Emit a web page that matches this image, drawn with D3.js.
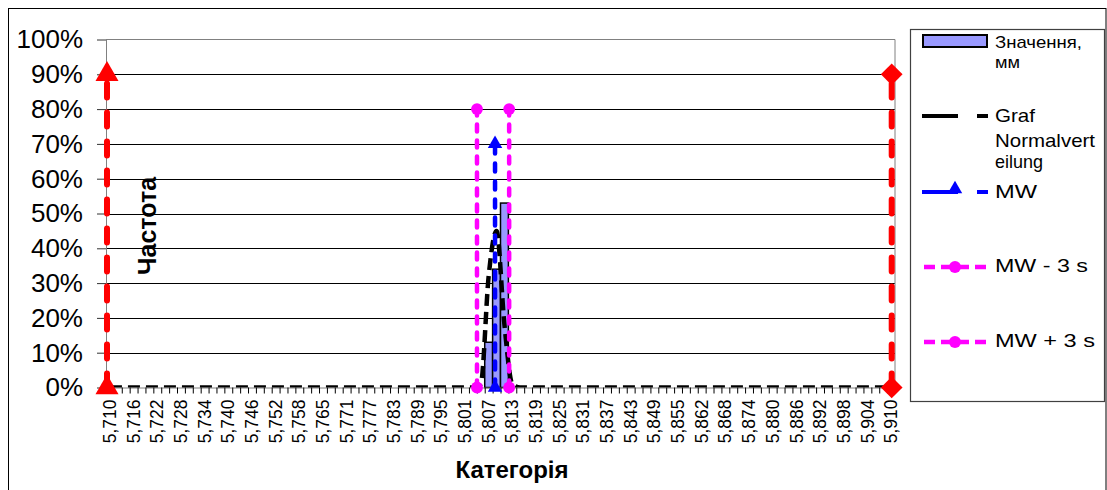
<!DOCTYPE html>
<html><head><meta charset="utf-8">
<script src="https://cdn.jsdelivr.net/npm/d3@7"></script>
<style>
body{margin:0;background:#fff;}
svg{display:block;font-family:"Liberation Sans",Arial,sans-serif;}
</style></head>
<body><svg id="c" width="1107" height="490"></svg>
<script>
// ---- data ----
const categories = [
"5,710","5,712","5,714","5,716","5,718","5,720","5,722","5,724","5,726","5,728",
"5,730","5,732","5,734","5,736","5,738","5,740","5,742","5,744","5,746","5,748",
"5,750","5,752","5,754","5,756","5,758","5,761","5,763","5,765","5,767","5,769",
"5,771","5,773","5,775","5,777","5,779","5,781","5,783","5,785","5,787","5,789",
"5,791","5,793","5,795","5,797","5,799","5,801","5,803","5,805","5,807","5,809",
"5,811","5,813","5,815","5,817","5,819","5,821","5,823","5,825","5,827","5,829",
"5,831","5,833","5,835","5,837","5,839","5,841","5,843","5,845","5,847","5,849",
"5,851","5,853","5,855","5,857","5,859","5,862","5,864","5,866","5,868","5,870",
"5,872","5,874","5,876","5,878","5,880","5,882","5,884","5,886","5,888","5,890",
"5,892","5,894","5,896","5,898","5,900","5,902","5,904","5,906","5,908","5,910"];
const tickLabels = ["5,710","5,716","5,722","5,728","5,734","5,740","5,746","5,752","5,758","5,765",
"5,771","5,777","5,783","5,789","5,795","5,801","5,807","5,813","5,819","5,825","5,831","5,837",
"5,843","5,849","5,855","5,862","5,868","5,874","5,880","5,886","5,892","5,898","5,904","5,910"];
const frequency = [
0,0,0,0,0,0,0,0,0,0, 0,0,0,0,0,0,0,0,0,0,
0,0,0,0,0,0,0,0,0,0, 0,0,0,0,0,0,0,0,0,0,
0,0,0,0,0,0,0,0,0.13,0.34, 0.53,0,0,0,0,0,0,0,0,0,
0,0,0,0,0,0,0,0,0,0, 0,0,0,0,0,0,0,0,0,0,
0,0,0,0,0,0,0,0,0,0, 0,0,0,0,0,0,0,0,0,0];
const normalCurve = [
0,0,0,0,0,0,0,0,0,0, 0,0,0,0,0,0,0,0,0,0,
0,0,0,0,0,0,0,0,0,0, 0,0,0,0,0,0,0,0,0,0,
0,0,0,0,0,0,0,0.01,0.32,0.45, 0.18,0.01,0,0,0,0,0,0,0,0,
0,0,0,0,0,0,0,0,0,0, 0,0,0,0,0,0,0,0,0,0,
0,0,0,0,0,0,0,0,0,0, 0,0,0,0,0,0,0,0,0,0];
const yTicks = [0,0.1,0.2,0.3,0.4,0.5,0.6,0.7,0.8,0.9,1.0];
const lowerLimitX = [5.710, 5.710], lowerLimitY = [0, 0.9];
const upperLimitX = [5.910, 5.910], upperLimitY = [0, 0.9];
const mwX = [5.8089, 5.8089], mwY = [0, 0.7];
const mwMinusX = [5.8043, 5.8043], mwMinusY = [0, 0.8];
const mwPlusX = [5.8125, 5.8125], mwPlusY = [0, 0.8];
const legendNames = [["Значення,","мм"],["Graf","Normalvert","eilung"],["MW"],["MW - 3 s"],["MW + 3 s"]];

// ---- layout ----
const svg = d3.select("#c");
const L=106, R=895, T=39.5, B=387.5;
const x = d3.scaleBand().domain(categories).range([L,R]).padding(0);
const xi = d3.scaleLinear().domain([0,categories.length]).range([L,R]);
const xv = d3.scaleLinear().domain([5.710,5.910]).range([107,891.7]);
const y = d3.scaleLinear().domain([0,1]).range([B,T]);

svg.append("defs").append("clipPath").attr("id","plotclip")
  .append("rect").attr("x",L).attr("y",T).attr("width",R-L).attr("height",B-T);

// outer border
svg.append("rect").attr("x",8.5).attr("y",8.5).attr("width",1097.5).attr("height",500)
  .attr("fill","#fff").attr("stroke","#000").attr("stroke-width",1);

// gridlines
svg.append("g").selectAll("line").data(yTicks.slice(1,-1)).join("line")
  .attr("x1",L).attr("x2",R).attr("y1",d=>Math.round(y(d))+0.5).attr("y2",d=>Math.round(y(d))+0.5)
  .attr("stroke","#000").attr("stroke-width",1);
// plot border top/right
svg.append("line").attr("x1",L).attr("x2",R).attr("y1",T).attr("y2",T).attr("stroke","#808080");
svg.append("line").attr("x1",R).attr("x2",R).attr("y1",T).attr("y2",B).attr("stroke","#808080");

// bars
svg.append("g").selectAll("rect").data(categories).join("rect")
  .attr("x",d=>x(d)).attr("width",x.bandwidth())
  .attr("y",(d,i)=>y(frequency[i])).attr("height",(d,i)=>B-y(frequency[i]))
  .attr("fill","#9999ff").attr("stroke","#000").attr("stroke-width",1.5);

// y axis
const ya = svg.append("g").attr("transform",`translate(${L},0)`)
  .call(d3.axisLeft(y).tickValues(yTicks).tickFormat(d3.format(".0%")).tickSize(9).tickPadding(14).tickSizeOuter(0));
ya.select(".domain").attr("stroke","#808080");
ya.selectAll(".tick line").attr("stroke","#333");
ya.selectAll("text").attr("font-size",26).attr("fill","#000").attr("font-family","Liberation Sans, Arial, sans-serif");

// x axis ticks
const xt = svg.append("g").attr("transform",`translate(0,${B})`)
  .call(d3.axisBottom(xi).tickValues(d3.range(categories.length+1)).tickFormat("").tickSize(6).tickSizeOuter(0));
xt.select(".domain").attr("stroke","#808080");
xt.selectAll(".tick line").attr("stroke","#000");
const xl = svg.append("g").attr("transform",`translate(0,${B})`)
  .call(d3.axisBottom(x).tickValues(tickLabels).tickSize(0).tickSizeOuter(0));
xl.select(".domain").remove();
xl.selectAll("text").attr("font-size",17.5).attr("fill","#000")
  .attr("font-family","Liberation Sans, Arial, sans-serif")
  .attr("transform","rotate(-90)").attr("text-anchor","end")
  .attr("x",-12).attr("y",0).attr("dy","0.35em");

// normal curve (clipped to plot area)
const curve = d3.line().x((d,i)=>x(categories[i])+x.bandwidth()/2).y(d=>y(d)).curve(d3.curveMonotoneX);
svg.append("path").attr("d",curve(normalCurve)).attr("fill","none").attr("clip-path","url(#plotclip)")
  .attr("stroke","#000").attr("stroke-width",4.5).attr("stroke-dasharray","12,6");

// vertical scatter lines
function vline(xs, ys, color, w, dash, symbols, size){
  const pts = xs.map((v,i)=>[xv(v), y(ys[i])]);
  svg.append("path").attr("d",d3.line()(pts)).attr("fill","none").attr("stroke",color)
    .attr("stroke-width",w).attr("stroke-dasharray",dash).attr("stroke-linecap","round");
  pts.forEach((p,i)=>{
    svg.append("path").attr("d",d3.symbol().type(symbols[i]).size(size)())
      .attr("transform",`translate(${p[0]},${p[1]})`).attr("fill",color);
  });
}
vline(lowerLimitX, lowerLimitY, "#ff0000", 6, "14,15", [d3.symbolTriangle,d3.symbolTriangle], 230);
vline(upperLimitX, upperLimitY, "#ff0000", 6, "14,15", [d3.symbolDiamond2||d3.symbolDiamond,d3.symbolDiamond2||d3.symbolDiamond], 300);
vline(mwX, mwY, "#0000ff", 4.5, "8,10", [d3.symbolTriangle,d3.symbolTriangle], 90);
vline(mwMinusX, mwMinusY, "#ff00ff", 4.5, "7,9", [d3.symbolCircle,d3.symbolCircle], 110);
vline(mwPlusX, mwPlusY, "#ff00ff", 4.5, "7,9", [d3.symbolCircle,d3.symbolCircle], 110);

// axis titles
svg.append("text").attr("transform","translate(156,226) rotate(-90)").attr("text-anchor","middle")
  .attr("font-size",25).attr("font-weight","bold").text("Частота");
svg.append("text").attr("x",512).attr("y",478).attr("text-anchor","middle")
  .attr("font-size",24).attr("font-weight","bold").text("Категорія");

// legend
const lg = svg.append("g");
lg.append("rect").attr("x",910.5).attr("y",29.5).attr("width",194).attr("height",372)
  .attr("fill","#fff").attr("stroke","#404040").attr("stroke-width",1.2);
lg.append("rect").attr("x",923).attr("y",35).attr("width",64).attr("height",12)
  .attr("fill","#9999ff").attr("stroke","#000").attr("stroke-width",2);
lg.append("line").attr("x1",922).attr("x2",988).attr("y1",116).attr("y2",116)
  .attr("stroke","#000").attr("stroke-width",4).attr("stroke-dasharray","36,19,11");
lg.append("line").attr("x1",922).attr("x2",988).attr("y1",192).attr("y2",192)
  .attr("stroke","#0000ff").attr("stroke-width",4).attr("stroke-dasharray","36,19,11");
lg.append("path").attr("d",d3.symbol().type(d3.symbolTriangle).size(90)())
  .attr("transform","translate(955,189)").attr("fill","#0000ff");
[267,342].forEach(yy=>{
  lg.append("line").attr("x1",924).attr("x2",986).attr("y1",yy).attr("y2",yy)
    .attr("stroke","#ff00ff").attr("stroke-width",4.5).attr("stroke-dasharray","11,6").attr("stroke-linecap","butt");
  lg.append("circle").attr("cx",955).attr("cy",yy).attr("r",6).attr("fill","#ff00ff");
});
const legendLines = [
  {t:legendNames[0][0], y:48, fs:17, w:87},{t:legendNames[0][1], y:68, fs:17, w:25},
  {t:legendNames[1][0], y:122, fs:19, w:40},{t:legendNames[1][1], y:146.5, fs:19, w:100},{t:legendNames[1][2], y:168, fs:19, w:48},
  {t:legendNames[2][0], y:198, fs:19, w:42},{t:legendNames[3][0], y:272, fs:19, w:93},{t:legendNames[4][0], y:347, fs:19, w:100}];
legendLines.forEach(d=>{
  lg.append("text").attr("x",995).attr("y",d.y).attr("font-size",d.fs)
    .attr("textLength",d.w).attr("lengthAdjust","spacingAndGlyphs").text(d.t);
});
</script></body></html>
